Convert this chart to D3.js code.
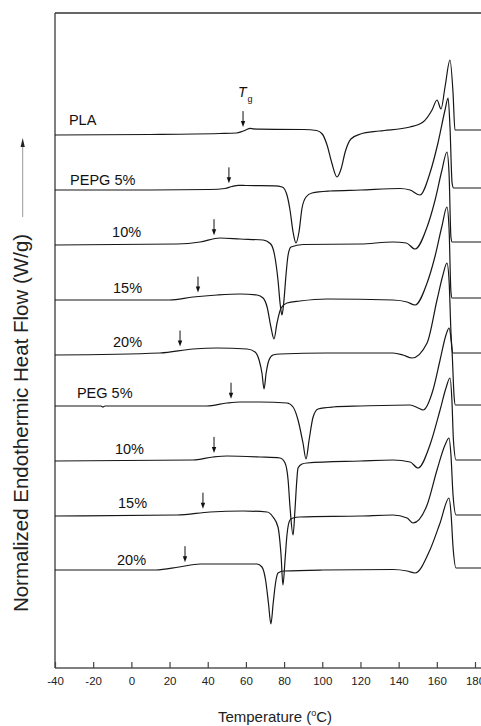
<!DOCTYPE html>
<html>
<head>
<meta charset="utf-8">
<script src="https://cdn.jsdelivr.net/npm/d3@7"></script>
<style>
  body { margin: 0; background: #fff; }
  svg text { font-family: "Liberation Sans", Arial, Helvetica, sans-serif; }
</style>
</head>
<body>
<div id="chart"></div>
<script>
// DSC heating traces: [temperature (C), heat flow relative to curve start]
let pla = [[-40,0],[10,0.01],[46,0.03],[55,0.04],[58,0.07],[60.5,0.11],[62,0.134],[64,0.124],[67,0.116],
  [90,0.11],[97,0.09],[100,0.02],[102.5,-0.2],[105,-0.56],[107.7,-0.84],[110,-0.66],[112,-0.34],[115,-0.08],
  [120,0.02],[130,0.08],[146,0.16],[152.8,0.26],[157.5,0.5],[160.1,0.7],[162.2,0.52],[164.3,0.96],[166.9,1.5],
  [168.5,0.84],[169.5,0.1],[185,0.1]]
let pepg5 = [[-40,0],[10,0],[41,0.01],[49,0.03],[52.7,0.07],[56,0.094],[60,0.09],[75,0.084],[79,0.06],[81.5,-0.1],
  [83.1,-0.4],[84.7,-0.84],[86.2,-1.06],[87.8,-0.84],[89.4,-0.36],[91.5,-0.14],[94.6,-0.06],[104,-0.02],[120,0],
  [140.7,0.03],[146,0],[151.2,-0.1],[156.4,0.34],[160.6,0.94],[164.3,1.6],[165.9,1.84],[166.9,1.26],[168,0.14],
  [168.8,0.04],[185,0.04]]
let pepg10 = [[-40,0],[24,0.02],[36,0.06],[46.4,0.14],[57,0.12],[69,0.1],[73,0.02],[75,-0.2],[76.8,-0.7],[78,-1.2],
  [78.9,-1.4],[79.8,-1.16],[81,-0.6],[82.1,-0.2],[83.6,-0.04],[90,0.01],[120,0.02],[137,0.06],[144,0.04],
  [148.6,-0.08],[154.9,0.36],[159.1,0.9],[162.7,1.5],[165.3,1.86],[166.4,1.44],[167.4,0.16],[168,0.06],[185,0.06]]
let pepg15 = [[-40,0],[20,0],[32.3,0.06],[44.9,0.1],[57,0.12],[65.8,0.1],[69,0.04],[71.1,-0.14],[73.1,-0.54],
  [74.7,-0.78],[76.3,-0.46],[78.4,-0.16],[81.5,-0.06],[88.3,-0.02],[102.5,0.02],[137,0],[144.4,-0.04],[148.6,-0.1],
  [154.9,0.34],[159.1,0.88],[162.7,1.48],[165.3,1.86],[166.4,1.44],[167.4,0.16],[168,0.04],[185,0.04]]
let pepg20 = [[-40,0],[15,0.04],[32.3,0.12],[44.9,0.14],[60.6,0.12],[64.8,0.06],[66.9,-0.1],[68.4,-0.36],[69.5,-0.68],
  [70.6,-0.36],[72.1,-0.1],[74.2,0],[77.9,0.02],[102.5,0.04],[137,0.04],[142.3,0],[147,-0.06],[154.9,0.24],
  [160.1,1.1],[163.2,1.6],[165.3,1.84],[166.4,1.5],[167.6,0.3],[168.3,0.04],[185,0.04]]
let peg5 = [[-40,0],[-16,0],[-14.9,-0.02],[-13.8,0],[20,0],[39.6,0],[50.1,0.06],[56.9,0.08],[67.4,0.08],[81.5,0.06],
  [84.7,-0.02],[87.3,-0.28],[89.9,-0.74],[91.5,-1.06],[93.1,-0.68],[95.2,-0.22],[97.8,-0.06],[105.6,-0.02],[120,0],
  [146,0.02],[150.2,-0.04],[152.8,-0.08],[158,0.32],[161.7,0.92],[164.8,1.42],[166.4,1.56],[167.2,1.42],[168,1.08],
  [169,0.22],[169.7,0.02],[185,0.02]]
let peg10 = [[-40,0],[32.3,0.02],[42.8,0.08],[50.1,0.1],[67.4,0.08],[77.9,0.06],[80.5,-0.04],[82.1,-0.38],[83.1,-0.92],
  [84.7,-1.48],[85.7,-0.98],[86.6,-0.42],[87.3,-0.14],[89.4,-0.06],[92,-0.04],[120,0],[137,0.02],[146,-0.02],
  [150.2,-0.14],[156.4,0.32],[161.7,1.02],[164.8,1.46],[166.9,1.66],[167.9,1.22],[168.7,0.42],[170.1,0.02],[185,0.02]]
let peg15 = [[-40,0],[23.9,0.02],[41.2,0.08],[58.5,0.1],[71.1,0.08],[74.2,-0.02],[76.8,-0.22],[78.4,-0.78],[79.4,-1.38],
  [80.5,-0.88],[81.5,-0.38],[83.1,-0.08],[84.7,-0.04],[88.3,-0.02],[120,0],[137,0.02],[144.4,-0.04],[147.5,-0.14],
  [154.9,0.22],[160.1,0.92],[164.3,1.42],[166.4,1.56],[167.4,1.22],[168.5,0.42],[170.1,0.02],[185,0.02]]
let peg20 = [[-40,0],[13,0],[25,0.06],[36,0.12],[65.8,0.12],[68.4,0.06],[70.3,-0.2],[71.8,-0.66],[73.1,-1.08],
  [74.3,-0.66],[75.6,-0.24],[76.8,-0.06],[80,-0.02],[100,0],[137,0.01],[144.4,-0.02],[148.6,-0.06],[156.4,0.4],
  [161.7,0.94],[166.4,1.44],[167.5,1.1],[168.5,0.46],[170.1,0.04],[185,0.04]]

let curves = [pla, pepg5, pepg10, pepg15, pepg20, peg5, peg10, peg15, peg20]
let labels = ["PLA", "PEPG 5%", "10%", "15%", "20%", "PEG 5%", "10%", "15%", "20%"]
// vertical shift of each trace (stacked plot)
let offsets = [10.66, 9.56, 8.46, 7.36, 6.26, 5.24, 4.14, 3.04, 1.96]
// glass transition marks (arrows)
let tgs = [58.5, 51.1, 43.3, 34.9, 25.5, 52.2, 43.3, 37.5, 28.1]
let xTicks = [-40, -20, 0, 20, 40, 60, 80, 100, 120, 140, 160, 180]

// label anchor temperatures and baseline shifts (layout)
let labelT = [-32.7, -32.1, -10.1, -9.6, -9.6, -28.5, -8.6, -7, -7.5]
let labelDy = [-10, -5, -8, -7, -8, -8, -7, -8, -5]

let svg_width = 481
let svg_height = 726

let svg = d3.select("#chart")
  .append("svg")
  .attr("width", svg_width)
  .attr("height", svg_height)

let xScale = d3.scaleLinear()
               .domain([-40, 180])
               .range([55, 475])

let yScale = d3.scaleLinear()
               .domain([0, 13.1])
               .range([668, 13])

// frame: left and top spines (right one is off the page)
svg.append("line")
   .attr("x1", 55).attr("x2", 55)
   .attr("y1", 13).attr("y2", 668)
   .attr("stroke", "#555").attr("stroke-width", 1.5)
svg.append("line")
   .attr("x1", 55).attr("x2", 490)
   .attr("y1", 13).attr("y2", 13)
   .attr("stroke", "#333").attr("stroke-width", 1.5)

// bottom axis with inward ticks, plain hyphen for negatives
let xAxis = d3.axisBottom(xScale)
  .tickValues(xTicks)
  .tickFormat(d => String(d))
  .tickSizeInner(-6)
  .tickSizeOuter(0)
  .tickPadding(9)

let gx = svg.append("g")
  .attr("transform", "translate(0,668)")
  .call(xAxis)
gx.select(".domain").attr("stroke", "#555").attr("stroke-width", 1.5).attr("d", "M55,0H490")
gx.selectAll(".tick line").attr("stroke", "#444").attr("stroke-width", 1.2)
gx.selectAll(".tick text")
  .attr("fill", "#222")
  .style("font-size", "11.5px")
  .style("font-family", "'Liberation Sans', Arial, sans-serif")

// axis titles
let xTitle = svg.append("text")
  .attr("x", 275).attr("y", 722)
  .attr("text-anchor", "middle")
  .attr("fill", "#222")
  .style("font-size", "15px")
xTitle.append("tspan").text("Temperature (")
xTitle.append("tspan").attr("dy", -6).style("font-size", "9px").text("o")
xTitle.append("tspan").attr("dy", 6).text("C)")

svg.append("text")
  .attr("transform", "translate(28,423) rotate(-90)")
  .attr("text-anchor", "middle")
  .attr("fill", "#222")
  .style("font-size", "20.5px")
  .text("Normalized Endothermic Heat Flow (W/g)")

// "endo up" arrow above the y title
svg.append("line")
  .attr("x1", 22.7).attr("x2", 22.7)
  .attr("y1", 146).attr("y2", 217)
  .attr("stroke", "#999").attr("stroke-width", 1)
svg.append("path")
  .attr("d", "M22.7,138 L20.6,147 L24.8,147 Z")
  .attr("fill", "#222")

// traces
let line = d3.line().curve(d3.curveMonotoneX)

svg.selectAll("path.trace")
   .data(curves)
   .enter()
   .append("path")
   .attr("class", "trace")
   .attr("d", (d, i) => line.x(p => xScale(p[0])).y(p => yScale(offsets[i] + p[1]))(d))
   .attr("fill", "none")
   .attr("stroke", "#161616")
   .attr("stroke-width", 1.2)

// interpolate trace value at temperature t
function valueAt(d, t) {
  for (let k = 1; k < d.length; k++) {
    if (d[k][0] >= t) {
      let a = d[k - 1], b = d[k]
      return a[1] + (b[1] - a[1]) * (t - a[0]) / (b[0] - a[0])
    }
  }
  return d[d.length - 1][1]
}

// Tg arrows
curves.forEach((d, i) => {
  let x = xScale(tgs[i])
  let tip = yScale(offsets[i] + valueAt(d, tgs[i])) - 4
  svg.append("line")
    .attr("x1", x).attr("x2", x)
    .attr("y1", tip - 16).attr("y2", tip - 5)
    .attr("stroke", "#111").attr("stroke-width", 1)
  svg.append("path")
    .attr("d", `M${x},${tip} L${x - 2.2},${tip - 6} L${x + 2.2},${tip - 6} Z`)
    .attr("fill", "#111")
})

// Tg label
let tgLabel = svg.append("text")
  .attr("x", xScale(tgs[0]) - 5)
  .attr("y", 97)
  .attr("fill", "#111")
tgLabel.append("tspan").style("font-size", "14px").style("font-style", "italic").text("T")
tgLabel.append("tspan").attr("dy", 5).attr("dx", 1).style("font-size", "9px").text("g")

// curve labels
svg.selectAll("text.lbl")
   .data(labels)
   .enter()
   .append("text")
   .attr("class", "lbl")
   .attr("x", (d, i) => xScale(labelT[i]))
   .attr("y", (d, i) => yScale(offsets[i]) + labelDy[i])
   .attr("fill", "#111")
   .style("font-size", "14.5px")
   .text(d => d)
</script>
</body>
</html>
